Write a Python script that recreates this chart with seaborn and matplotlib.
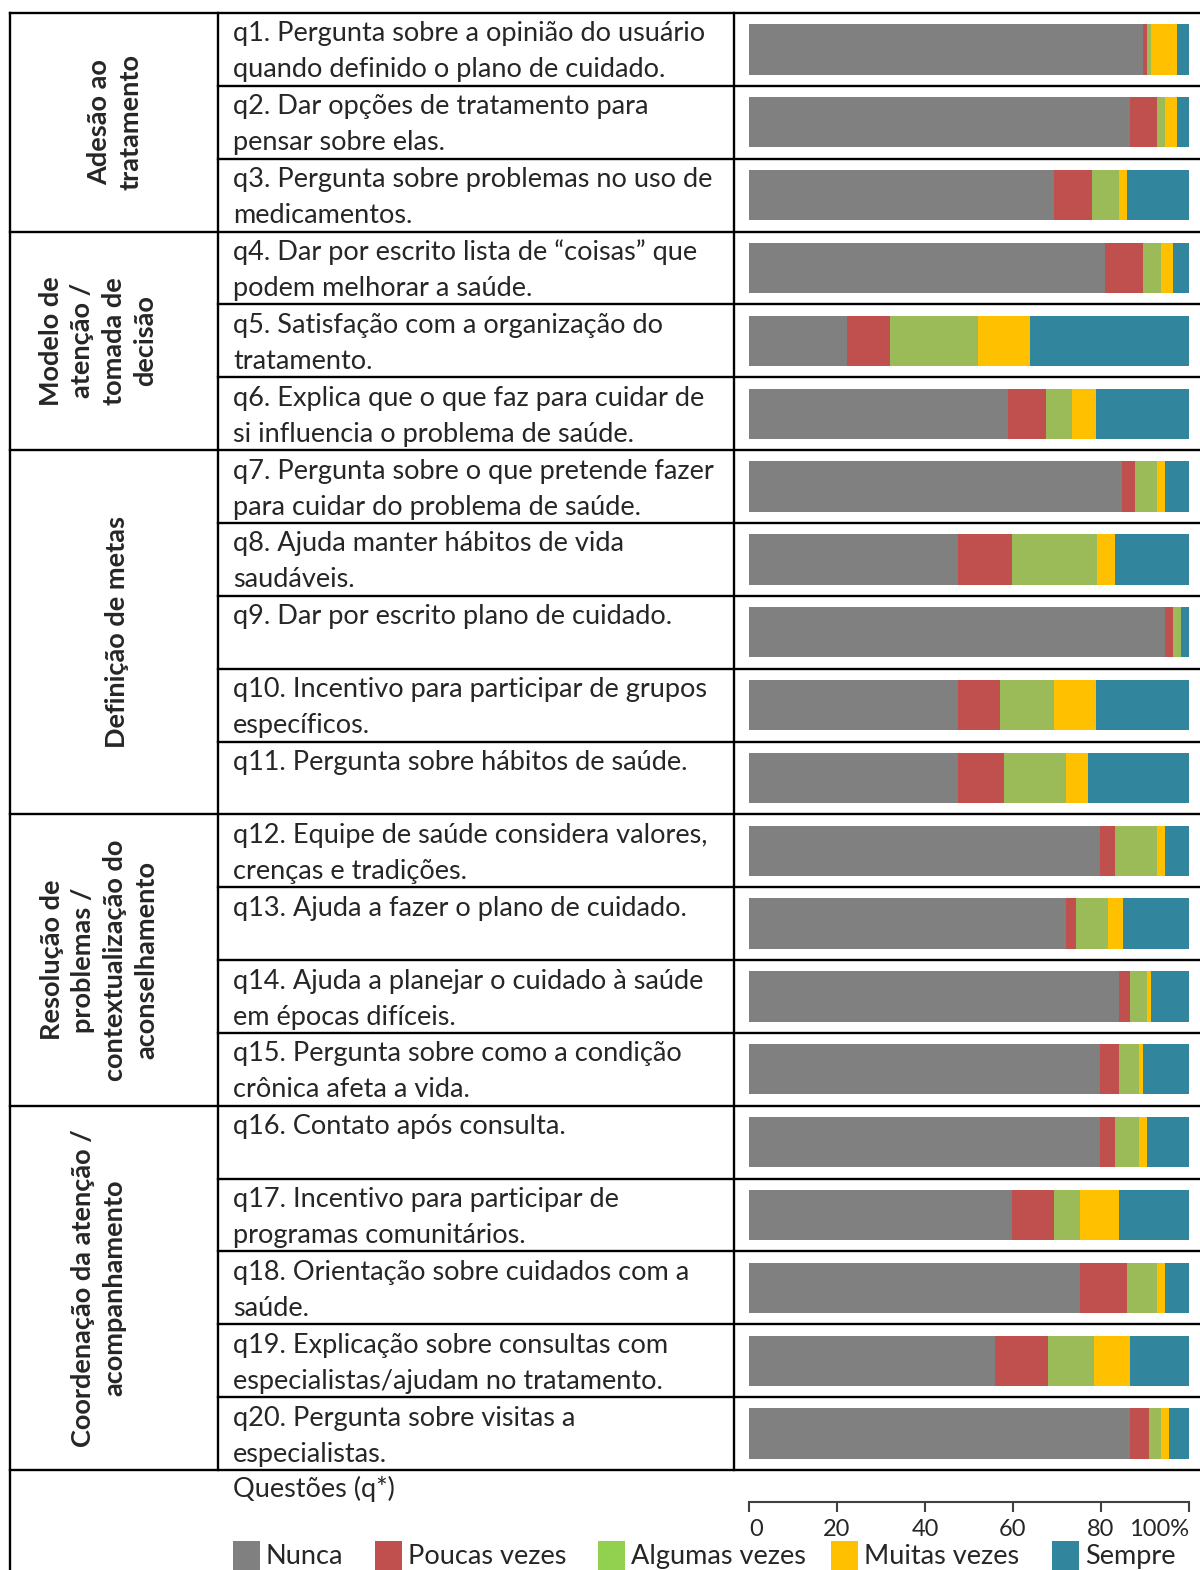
import numpy as np
import pandas as pd
import matplotlib
matplotlib.use("Agg")
import matplotlib.pyplot as plt
from matplotlib.patches import Rectangle
import seaborn as sns

sns.set_style("white")
plt.rcParams["font.family"] = ["Lato", "DejaVu Sans"]

# ---- data -------------------------------------------------------------
questions = [
    "q1. Pergunta sobre a opinião do usuário\nquando definido o plano de cuidado.",
    "q2. Dar opções de tratamento para\npensar sobre elas.",
    "q3. Pergunta sobre problemas no uso de\nmedicamentos.",
    "q4. Dar por escrito lista de “coisas” que\npodem melhorar a saúde.",
    "q5. Satisfação com a organização do\ntratamento.",
    "q6. Explica que o que faz para cuidar de\nsi influencia o problema de saúde.",
    "q7. Pergunta sobre o que pretende fazer\npara cuidar do problema de saúde.",
    "q8. Ajuda manter hábitos de vida\nsaudáveis.",
    "q9. Dar por escrito plano de cuidado.",
    "q10. Incentivo para participar de grupos\nespecíficos.",
    "q11. Pergunta sobre hábitos de saúde.",
    "q12. Equipe de saúde considera valores,\ncrenças e tradições.",
    "q13. Ajuda a fazer o plano de cuidado.",
    "q14. Ajuda a planejar o cuidado à saúde\nem épocas difíceis.",
    "q15. Pergunta sobre como a condição\ncrônica afeta a vida.",
    "q16. Contato após consulta.",
    "q17. Incentivo para participar de\nprogramas comunitários.",
    "q18. Orientação sobre cuidados com a\nsaúde.",
    "q19. Explicação sobre consultas com\nespecialistas/ajudam no tratamento.",
    "q20. Pergunta sobre visitas a\nespecialistas.",
]

nunca = [89.5, 86.7, 69.4, 80.8, 22.3, 58.9, 84.8, 47.5, 94.5, 47.5,
         47.5, 79.8, 72.1, 84.0, 79.8, 79.8, 59.8, 75.3, 55.8, 86.7]
poucas_vezes = [0.9, 6.0, 8.6, 8.7, 9.7, 8.7, 2.9, 12.3, 1.8, 9.6,
                10.5, 3.3, 2.3, 2.7, 4.2, 3.3, 9.6, 10.5, 12.2, 4.1]
algumas_vezes = [0.9, 1.8, 6.0, 4.1, 20.0, 5.9, 5.0, 19.2, 1.8, 12.3,
                 14.1, 9.6, 7.3, 3.7, 4.6, 5.5, 5.9, 6.9, 10.5, 2.8]
muitas_vezes = [5.9, 2.7, 1.8, 2.7, 11.9, 5.4, 1.8, 4.1, 0.0, 9.5,
                5.0, 1.8, 3.2, 0.9, 0.9, 1.8, 8.7, 1.8, 8.2, 1.8]
sempre = [2.8, 2.8, 14.2, 3.7, 36.1, 21.1, 5.5, 16.9, 1.9, 21.1,
          22.9, 5.5, 15.1, 8.7, 10.5, 9.6, 16.0, 5.5, 13.3, 4.6]

categories = ["Nunca", "Poucas vezes", "Algumas vezes", "Muitas vezes", "Sempre"]
bar_colors = ["#808080", "#C0504D", "#9BBB59", "#FFC000", "#31859C"]
legend_colors = ["#808080", "#C0504D", "#92D050", "#FFC000", "#31859C"]

groups = [
    "Adesão ao\ntratamento",
    "Modelo de\natenção /\ntomada de\ndecisão",
    "Definição de metas",
    "Resolução de\nproblemas /\ncontextualização do\naconselhamento",
    "Coordenação da atenção /\nacompanhamento",
]
group_sizes = [3, 3, 5, 4, 5]

xticks = [0, 20, 40, 60, 80, 100]
xtick_labels = ["0", "20", "40", "60", "80", "100%"]

# ---- layout (pixel grid of the figure) --------------------------------
W, H = 1200, 1570
top, bottom = 13, 1470
n = len(questions)
row_h = (bottom - top) / n
x_left, x_col1, x_col2 = 10, 218, 734
bar_x0, bar_x1 = 749, 1189

fig = plt.figure(figsize=(W / 100, H / 100), dpi=100)
bg = fig.add_axes([0, 0, 1, 1])
bg.set_xlim(0, W)
bg.set_ylim(H, 0)
bg.axis("off")

lw = 1.7
line_kw = dict(color="black", lw=lw, solid_capstyle="projecting")

# vertical rules
bg.plot([x_left, x_left], [top, H], **line_kw)
bg.plot([x_col1, x_col1], [top, bottom], **line_kw)
bg.plot([x_col2, x_col2], [top, bottom], **line_kw)

# horizontal rules: full width at group borders, question rows otherwise
boundaries = np.cumsum([0] + group_sizes)
for i in range(n + 1):
    y = top + i * row_h
    x0 = x_left if i in boundaries else x_col1
    bg.plot([x0, W], [y, y], **line_kw)

# group labels in the first column
group_x = [115, 98, 117, 99, 99]
for g, label in enumerate(groups):
    y0 = top + boundaries[g] * row_h
    y1 = top + boundaries[g + 1] * row_h
    bg.text(group_x[g], (y0 + y1) / 2, label, rotation=90, ha="center",
            va="center", fontsize=19.5, fontweight="bold", linespacing=1.38,
            multialignment="center")

# question text in the second column
text_size = 19.5
for i, q in enumerate(questions):
    y0 = top + i * row_h
    for k, line in enumerate(q.split("\n")):
        bg.text(233, y0 + 21 + k * 36, line, ha="left", va="center",
                fontsize=text_size)

bg.text(233, 1489, "Questões (q*)", ha="left", va="center", fontsize=text_size)

# legend along the bottom
legend_x = [233, 375, 598, 831, 1052]
for name, col, lx in zip(categories, legend_colors, legend_x):
    bg.add_patch(Rectangle((lx, 1541), 27, 32, color=col, lw=0))
    bg.text(lx + 33, 1564, name, ha="left", va="baseline", fontsize=text_size)

# ---- stacked horizontal bars -----------------------------------------
ax = fig.add_axes([bar_x0 / W, (H - bottom) / H, (bar_x1 - bar_x0) / W,
                   (bottom - top) / H])
ax.patch.set_visible(False)

df = pd.DataFrame({"questao": [f"q{i + 1}" for i in range(n)],
                   "Nunca": nunca, "Poucas vezes": poucas_vezes,
                   "Algumas vezes": algumas_vezes, "Muitas vezes": muitas_vezes,
                   "Sempre": sempre})
cum = df[categories].cumsum(axis=1).assign(questao=df["questao"])
for cat, col in reversed(list(zip(categories, bar_colors))):
    sns.barplot(data=cum, x=cat, y="questao", orient="h", color=col,
                width=0.69, saturation=1, linewidth=0, ax=ax)

ax.set_xlim(0, 100)
ax.set_ylim(n - 0.5, -0.5)
ax.set_ylabel("")
ax.set_xlabel("")
ax.set_yticks([])
for s in ["left", "right", "top"]:
    ax.spines[s].set_visible(False)
ax.spines["bottom"].set_position(("outward", 23))
ax.spines["bottom"].set_color("#404040")
ax.spines["bottom"].set_linewidth(1.5)
ax.set_xticks(xticks)
ax.set_xticklabels(xtick_labels)
ax.tick_params(axis="x", direction="out", length=7.5, width=1.5,
               color="#404040", labelsize=17, pad=5, bottom=True)
tl = ax.get_xticklabels()
tl[0].set_horizontalalignment("left")
tl[-1].set_horizontalalignment("right")

fig.savefig("out.png", dpi=100)
